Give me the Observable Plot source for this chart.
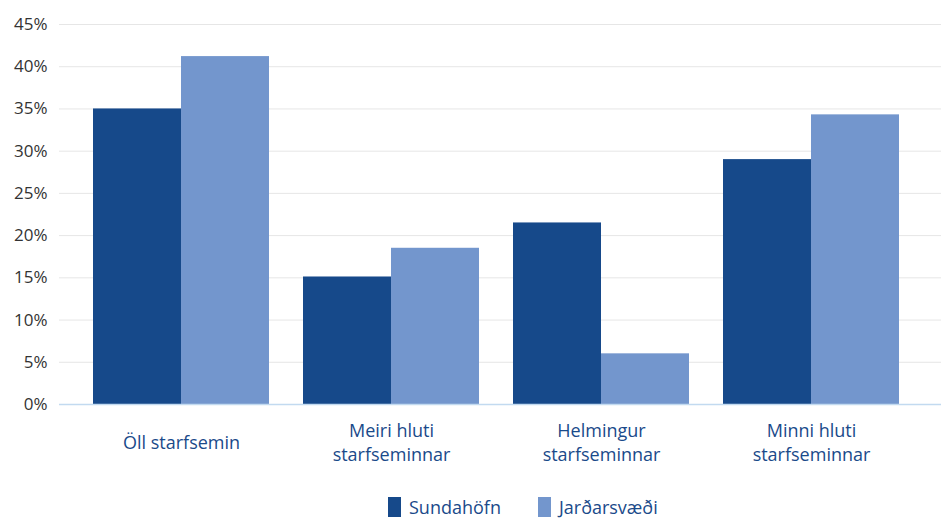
<!DOCTYPE html>
<html>
<head>
<meta charset="utf-8">
<script src="https://cdn.jsdelivr.net/npm/d3@7"></script>
<script src="https://cdn.jsdelivr.net/npm/@observablehq/plot@0.6"></script>
<style>
  html, body { margin: 0; padding: 0; background: #fff; }
  body { width: 941px; height: 519px; position: relative; overflow: hidden; font-family: "Open Sans", "Noto Sans", sans-serif; }
  #chart { position: absolute; left: 0; top: 0; }
  #legend { position: absolute; top: 495px; left: 388px; display: flex; align-items: center; font-size: 18px; color: #1a4a8a; }
  .item { display: flex; align-items: center; margin-right: 37px; }
  .sw { width: 13px; height: 20px; margin-right: 8px; }
</style>
</head>
<body>
<div id="chart"></div>
<div id="legend"></div>
<script>
const categories = ["Öll starfsemin", "Meiri hluti starfseminnar", "Helmingur starfseminnar", "Minni hluti starfseminnar"];
const categoryLabels = ["Öll starfsemin", "Meiri hluti\nstarfseminnar", "Helmingur\nstarfseminnar", "Minni hluti\nstarfseminnar"];
const seriesNames = ["Sundahöfn", "Jarðarsvæði"];
const sundahofn = [35.0, 15.1, 21.5, 29.0];
const jardarsvaedi = [41.2, 18.5, 6.0, 34.3];
const yTicks = [0, 5, 10, 15, 20, 25, 30, 35, 40, 45];
const colors = ["#16498a", "#7396cd"];

const dark = categories.map((c, i) => ({category: c, value: sundahofn[i]}));
const light = categories.map((c, i) => ({category: c, value: jardarsvaedi[i]}));
const labels = categories.map((c, i) => ({category: c, label: categoryLabels[i]}));

const chart = Plot.plot({
  width: 941,
  height: 480,
  marginLeft: 59,
  marginRight: 0,
  marginTop: 24,
  marginBottom: 76,
  style: {fontFamily: "'Open Sans', 'Noto Sans', sans-serif", background: "#fff"},
  x: {type: "band", domain: categories, insetLeft: 17, insetRight: 25, paddingInner: 0.162, paddingOuter: 0.081, axis: null},
  y: {domain: [0, 45], axis: null},
  marks: [
    Plot.gridY(yTicks, {stroke: "#e6e6e6", strokeOpacity: 1, strokeWidth: 1}),
    Plot.axisY(yTicks, {tickSize: 0, tickPadding: 12, tickFormat: d => d + "%", fontSize: 17, fill: "#333", label: null}),
    Plot.barY(dark, {x: "category", y: "value", fill: colors[0], insetRight: 88}),
    Plot.barY(light, {x: "category", y: "value", fill: colors[1], insetLeft: 88}),
    Plot.ruleY([0], {stroke: "#c2daf0", strokeWidth: 1.5}),
    Plot.text(labels, {x: "category", text: "label", frameAnchor: "bottom", dy: 37, lineAnchor: "middle", lineHeight: 1.33, fontSize: 18, fill: "#1a4a8a"})
  ]
});
document.getElementById("chart").appendChild(chart);

const legend = document.getElementById("legend");
seriesNames.forEach((name, i) => {
  const item = document.createElement("div");
  item.className = "item";
  const sw = document.createElement("div");
  sw.className = "sw";
  sw.style.background = colors[i];
  const t = document.createElement("span");
  t.textContent = name;
  item.appendChild(sw);
  item.appendChild(t);
  legend.appendChild(item);
});
</script>
</body>
</html>
